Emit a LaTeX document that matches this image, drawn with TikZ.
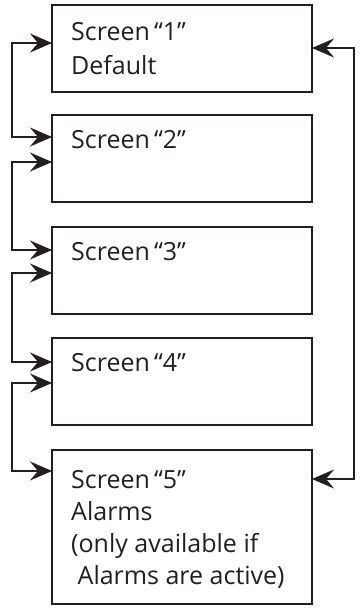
\documentclass[tikz,border=0pt]{standalone}
\usepackage{fontspec}
\setmainfont{Open Sans}
\usetikzlibrary{arrows.meta,calc}
\definecolor{ink}{HTML}{231F20}
\tikzset{
  screenbox/.style={draw=ink,line width=2.2pt,minimum width=260pt,minimum height=#1,
    inner sep=0pt,outer sep=0pt,anchor=north west},
  screentext/.style={anchor=north west,inner sep=0pt,align=left,text=ink,
    font=\fontsize{25}{34}\selectfont},
  link/.style={draw=ink,line width=2pt,
    {Stealth[length=22pt,width=19pt,inset=8pt]}-{Stealth[length=22pt,width=19pt,inset=8pt]}}
}
\begin{document}
\begin{tikzpicture}[x=1pt,y=-1pt]
  \useasboundingbox (0,0) rectangle (360,613);
  % the five screens
  \foreach \n/\top in {1/5,2/115,3/227,4/338} {
    \node[screenbox=87pt] (b\n) at (52,\top) {};
  }
  \node[screenbox=154pt] (b5) at (52,450) {};
  % texts
  \node[screentext] (t1) at ($(b1.north west)+(19,17)$) {Screen\,“1”\\Default};
  \foreach \n in {2,3,4} {
    \node[screentext] (t\n) at ($(b\n.north west)+(19,15)$) {Screen\,“\n”};
  }
  \node[screentext,font=\fontsize{25}{32}\selectfont] (t5) at ($(b5.north west)+(19,20)$)
    {Screen\,“5”\\Alarms\\(only available if\\\ Alarms are active)};
  % rails
  \coordinate (lrail) at (12,0);
  \coordinate (rrail) at (354,0);
  \coordinate (l1) at ($(b1.north west)+(0,38)$);
  \coordinate (l2) at ($(b2.north west)+(0,22)$);
  \coordinate (m2) at ($(b2.north west)+(0,47)$);
  \coordinate (l3) at ($(b3.north west)+(0,23)$);
  \coordinate (m3) at ($(b3.north west)+(0,46)$);
  \coordinate (l4) at ($(b4.north west)+(0,24)$);
  \coordinate (m4) at ($(b4.north west)+(0,45)$);
  \coordinate (l5) at ($(b5.north west)+(0,21)$);
  \draw[link] (l1) -- (l1 -| lrail) |- (l2);
  \draw[link] (m2) -- (m2 -| lrail) |- (l3);
  \draw[link] (m3) -- (m3 -| lrail) |- (l4);
  \draw[link] (m4) -- (m4 -| lrail) |- (l5);
  \coordinate (r1) at ($(b1.north east)+(0,43)$);
  \coordinate (r5) at ($(b5.north east)+(0,29)$);
  \draw[link] (r1) -- (r1 -| rrail) |- (r5);
\end{tikzpicture}
\end{document}
